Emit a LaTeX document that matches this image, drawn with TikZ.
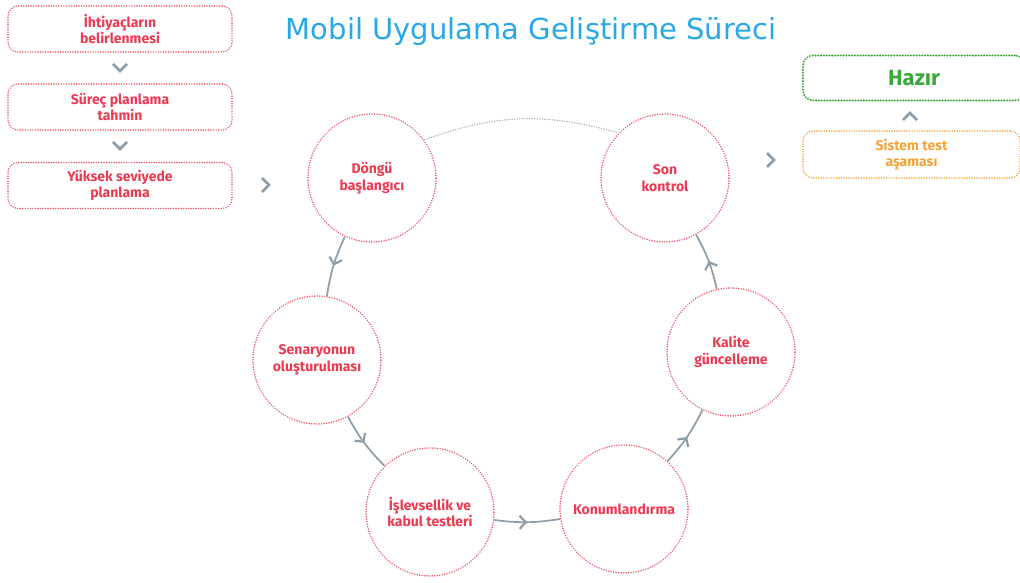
\documentclass[tikz,border=0pt]{standalone}
\usepackage{fontspec}
\setmainfont{Fira Sans}
\newfontfamily\titlefont{DejaVu Sans}
\usetikzlibrary{arrows.meta,decorations.markings,calc}
\definecolor{cred}{HTML}{EC3A50}
\definecolor{cgray}{HTML}{8C9CA8}
\definecolor{cgreen}{HTML}{3DA83A}
\definecolor{corange}{HTML}{F5A238}
\definecolor{cblue}{HTML}{2AA8E6}
\tikzset{
  dots/.style={line width=1.7pt, dash pattern=on 0.01pt off 2.5pt, line cap=round},
  stage/.style={circle, draw=cred!85, dots, minimum size=128pt, inner sep=0pt,
    font=\fontsize{14}{16.5}\selectfont\bfseries, text=cred, align=center},
  stepbox/.style={rounded corners=10pt, draw=cred!85, dots, minimum width=224pt,
    minimum height=46pt, font=\fontsize{14}{16.5}\selectfont\bfseries, text=cred, align=center},
  flow/.style={draw=cgray, line width=1.7pt, postaction={decorate},
    decoration={markings, mark=at position 0.5 with {\arrow{Straight Barb[length=6pt,width=13pt,line width=2.2pt]}}}},
  chev/.style={draw=cgray, line width=2.6pt},
  topdots/.style={draw=cgray!85, line width=1.5pt, dash pattern=on 0.01pt off 2.5pt, line cap=round}
}
\begin{document}
\begin{tikzpicture}[x=1pt,y=1pt]
\useasboundingbox (0,0) rectangle (1020,583);
% title
\node[font=\titlefont\fontsize{29}{33}\selectfont, text=cblue] (title) at (531,551) {Mobil Uygulama Geliştirme Süreci};
% left boxes
\node[stepbox] (b1) at (120,554) {İhtiyaçların\\belirlenmesi};
\node[stepbox] (b2) at (120,476) {Süreç planlama\\tahmin};
\node[stepbox] (b3) at (120,397.5) {Yüksek seviyede\\planlama};
% right boxes
\node[rounded corners=10pt, draw=cgreen, line width=2.3pt, dash pattern=on 0.01pt off 2.8pt, line cap=round,
  minimum width=222pt, minimum height=45pt, font=\fontsize{22}{25}\selectfont\bfseries, text=cgreen] (hazir) at (914,505) {Hazır};
\node[rounded corners=10pt, draw=corange, dots, minimum width=217pt, minimum height=47pt,
  font=\fontsize{14}{16.5}\selectfont\bfseries, text=corange, align=center] (sistem) at (911.5,428.5) {Sistem test\\aşaması};
% cycle
\node[stage] (dongu) at (372,405) {Döngü\\başlangıcı};
\node[stage] (senaryo) at (317,223) {Senaryonun\\oluşturulması};
\node[stage] (islev) at (430,71) {İşlevsellik ve\\kabul testleri};
\node[stage] (konum) at (624,74) {Konumlandırma};
\node[stage] (kalite) at (731,231) {Kalite\\güncelleme};
\node[stage] (son) at (665,405) {Son\\kontrol};
% connectors
\draw[flow] (dongu) to[bend right=8] (senaryo);
\draw[flow] (senaryo) to[bend right=8] (islev);
\draw[flow] (islev) to[bend right=8] (konum);
\draw[flow] (konum) to[bend right=8] (kalite);
\draw[flow] (kalite) to[bend right=8] (son);
\draw[topdots] (dongu.36) to[bend left=18] (son.136);
% chevrons
\draw[chev] (113,519) -- (120,512) -- (127,519);
\draw[chev] (113,441) -- (120,434) -- (127,441);
\draw[chev] (262,405) -- (269,398) -- (262,391);
\draw[chev] (767,430) -- (774,423) -- (767,416);
\draw[chev] (903,463) -- (910,470) -- (917,463);
\end{tikzpicture}
\end{document}
